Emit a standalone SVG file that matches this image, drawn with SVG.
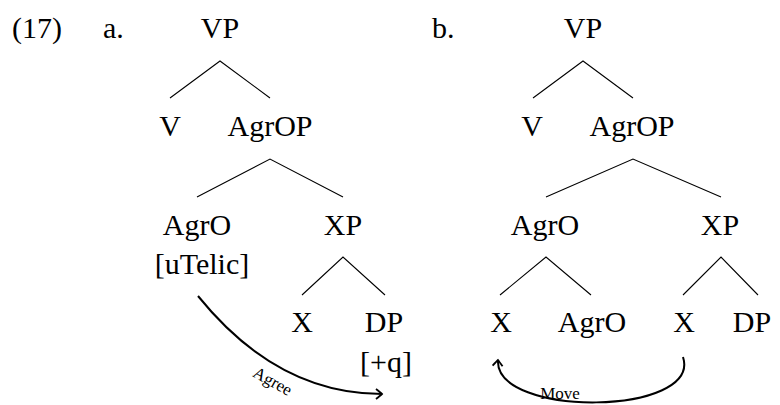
<svg xmlns="http://www.w3.org/2000/svg" width="780" height="405" viewBox="0 0 780 405">
<style>
.t{font-size:30px;fill:#000}
.n{text-anchor:middle}
.lbl{font-size:17px}
.e{stroke:#000;stroke-width:1.1;fill:none}
.arc{stroke:#000;stroke-width:2;fill:none}
</style>
<defs>
<marker id="to" viewBox="-8 -6 10 12" markerWidth="10" markerHeight="12" refX="0" refY="0" orient="auto" markerUnits="userSpaceOnUse">
<path d="M-6,-5 Q-1,-1 0,0 Q-1,1 -6,5" stroke="#000" stroke-width="1.8" fill="none"/>
</marker>
</defs>
<rect width="780" height="405" fill="#fff"/>
<g font-family="'Liberation Serif', Tinos, 'Times New Roman', Times, 'Nimbus Roman', 'DejaVu Serif', serif">
<text class="t" x="12" y="38">(17)</text>
<text class="t" x="103" y="38">a.</text>
<text class="t" x="432" y="38">b.</text>
<g id="connectors">
<path class="e" d="M170,98 L220,61 L270,98"/>
<path class="e" d="M197,197 L270,159 L343,197"/>
<path class="e" d="M302,295 L343,257 L385,295"/>
<path class="e" d="M533,98 L583,61 L633,98"/>
<path class="e" d="M546,197 L633,159 L721,197"/>
<path class="e" d="M500,295 L546,257 L591,295"/>
<path class="e" d="M683,295 L721,257 L758,295"/>
<path class="arc" d="M198,296 C240,348 300,394 382,394" marker-end="url(#to)"/>
<path class="arc" d="M683,357 C702,416 494,418 498,360" marker-end="url(#to)"/>
</g>
<g id="a-VP"><text class="t n" x="220" y="38">VP</text></g>
<g id="a-V"><text class="t n" x="170" y="136">V</text></g>
<g id="a-AgrOP"><text class="t n" x="270" y="136">AgrOP</text></g>
<g id="a-AgrO"><text class="t n" x="197" y="235">AgrO</text><text class="t n" x="202" y="274">[uTelic]</text></g>
<g id="a-XP"><text class="t n" x="343" y="235">XP</text></g>
<g id="a-X"><text class="t n" x="302" y="332">X</text></g>
<g id="a-DP"><text class="t n" x="384" y="332">DP</text><text class="t n" x="386" y="372">[+q]</text></g>
<g id="b-VP"><text class="t n" x="583" y="38">VP</text></g>
<g id="b-V"><text class="t n" x="532" y="136">V</text></g>
<g id="b-AgrOP"><text class="t n" x="632" y="136">AgrOP</text></g>
<g id="b-AgrO"><text class="t n" x="545" y="235">AgrO</text></g>
<g id="b-XP"><text class="t n" x="720" y="235">XP</text></g>
<g id="b-X1"><text class="t n" x="501" y="332">X</text></g>
<g id="b-AgrO2"><text class="t n" x="592" y="332">AgrO</text></g>
<g id="b-X2"><text class="t n" x="684" y="332">X</text></g>
<g id="b-DP"><text class="t n" x="752" y="332">DP</text></g>
<text class="t lbl n" transform="translate(270,386) rotate(29)">Agree</text>
<text class="t lbl n" x="560" y="399">Move</text>
</g>
</svg>
